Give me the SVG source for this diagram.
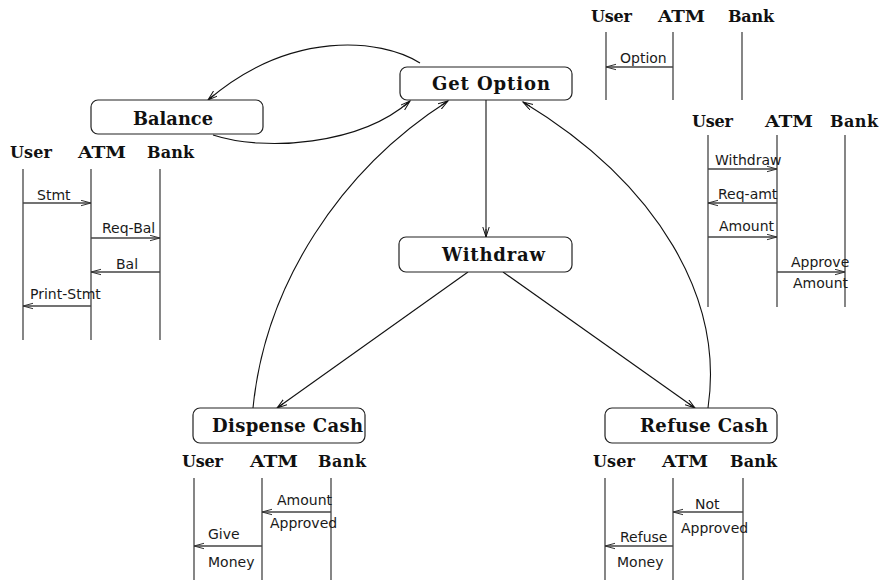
<svg xmlns="http://www.w3.org/2000/svg" width="881" height="580" viewBox="0 0 881 580">
  <style>
    .box { fill: #fff; stroke: #222; stroke-width: 1.2; }
    .state { font-family: "DejaVu Serif", "Liberation Serif", serif; font-weight: bold; font-size: 18px; fill: #111; }
    .head { font-family: "DejaVu Serif", "Liberation Serif", serif; font-weight: bold; font-size: 16px; fill: #111; }
    .msg { font-family: "DejaVu Sans", "Liberation Sans", sans-serif; font-size: 14px; fill: #1a1a1a; }
    .life { stroke: #444; stroke-width: 1.3; fill: none; }
    .sm { stroke: #444; stroke-width: 1.3; fill: none; marker-end: url(#seqhead); }
    .edge { stroke: #111; stroke-width: 1.1; fill: none; marker-end: url(#head); }
  </style>
  <defs>
    <marker id="head" markerUnits="userSpaceOnUse" markerWidth="12" markerHeight="8" refX="10" refY="3.5" orient="auto">
      <path d="M0,0.3 L10,3.5 L0,6.7 M2,3.5 L10,3.5" fill="none" stroke="#111" stroke-width="1"/>
    </marker>
    <marker id="seqhead" markerUnits="userSpaceOnUse" markerWidth="12" markerHeight="8" refX="10" refY="3.5" orient="auto">
      <path d="M0,0.8 L10,3.5 L0,6.2" fill="none" stroke="#333" stroke-width="1"/>
    </marker>
  </defs>

  <!-- state transitions -->
  <g id="connectors">
    <path class="edge" d="M420,63 C380,38 290,30 208,100"/>
    <path class="edge" d="M213,135 C265,152 360,145 410,101"/>
    <path class="edge" d="M486,100 L486,237"/>
    <path class="edge" d="M468,272 L277,408"/>
    <path class="edge" d="M503,272 L695,408"/>
    <path class="edge" d="M253,408 C265,285 340,170 448,101"/>
    <path class="edge" d="M708,408 C724,300 660,185 523,102"/>
  </g>

  <!-- states -->
  <g id="get-option">
    <rect class="box" x="400" y="67" width="172" height="33" rx="7"/>
    <text class="state" x="432" y="90" textLength="118" lengthAdjust="spacing">Get Option</text>
  </g>
  <g id="balance">
    <rect class="box" x="91" y="100" width="172" height="34" rx="7"/>
    <text class="state" x="133" y="125" textLength="80" lengthAdjust="spacingAndGlyphs">Balance</text>
  </g>
  <g id="withdraw">
    <rect class="box" x="399" y="237" width="173" height="35" rx="7"/>
    <text class="state" x="442" y="261" textLength="103" lengthAdjust="spacing">Withdraw</text>
  </g>
  <g id="dispense-cash">
    <rect class="box" x="193" y="408" width="172" height="35" rx="7"/>
    <text class="state" x="212" y="432" textLength="151" lengthAdjust="spacing">Dispense Cash</text>
  </g>
  <g id="refuse-cash">
    <rect class="box" x="605" y="408" width="172" height="35" rx="7"/>
    <text class="state" x="640" y="432" textLength="128" lengthAdjust="spacing">Refuse Cash</text>
  </g>

  <!-- sequence: get option -->
  <g id="seq-option">
    <text class="head" x="591" y="22" textLength="41">User</text>
    <text class="head" x="658" y="22" textLength="47" lengthAdjust="spacingAndGlyphs">ATM</text>
    <text class="head" x="728" y="22" textLength="46">Bank</text>
    <line class="life" x1="606" y1="32" x2="606" y2="100"/>
    <line class="life" x1="673" y1="32" x2="673" y2="100"/>
    <line class="life" x1="742" y1="32" x2="742" y2="100"/>
    <line class="sm" x1="673" y1="67" x2="606" y2="67"/>
    <text class="msg" x="620" y="63">Option</text>
  </g>

  <!-- sequence: balance -->
  <g id="seq-balance">
    <text class="head" x="10" y="158" textLength="42">User</text>
    <text class="head" x="78" y="158" textLength="48" lengthAdjust="spacingAndGlyphs">ATM</text>
    <text class="head" x="147" y="158" textLength="47">Bank</text>
    <line class="life" x1="23" y1="169" x2="23" y2="340"/>
    <line class="life" x1="91" y1="169" x2="91" y2="340"/>
    <line class="life" x1="160" y1="169" x2="160" y2="340"/>
    <line class="sm" x1="23" y1="203" x2="91" y2="203"/>
    <text class="msg" x="37" y="200">Stmt</text>
    <line class="sm" x1="91" y1="238" x2="160" y2="238"/>
    <text class="msg" x="102" y="233">Req-Bal</text>
    <line class="sm" x1="160" y1="272" x2="91" y2="272"/>
    <text class="msg" x="116" y="269">Bal</text>
    <line class="sm" x1="91" y1="306" x2="23" y2="306"/>
    <text class="msg" x="30" y="299">Print-Stmt</text>
  </g>

  <!-- sequence: withdraw -->
  <g id="seq-withdraw">
    <text class="head" x="692" y="127" textLength="41">User</text>
    <text class="head" x="765" y="127" textLength="48" lengthAdjust="spacingAndGlyphs">ATM</text>
    <text class="head" x="830" y="127" textLength="48">Bank</text>
    <line class="life" x1="708" y1="135" x2="708" y2="307"/>
    <line class="life" x1="777" y1="135" x2="777" y2="307"/>
    <line class="life" x1="845" y1="135" x2="845" y2="307"/>
    <line class="sm" x1="708" y1="169" x2="777" y2="169"/>
    <text class="msg" x="715" y="165">Withdraw</text>
    <line class="sm" x1="777" y1="203" x2="708" y2="203"/>
    <text class="msg" x="718" y="199">Req-amt</text>
    <line class="sm" x1="708" y1="237" x2="777" y2="237"/>
    <text class="msg" x="719" y="231">Amount</text>
    <line class="sm" x1="777" y1="272" x2="845" y2="272"/>
    <text class="msg" x="791" y="267">Approve</text>
    <text class="msg" x="793" y="288">Amount</text>
  </g>

  <!-- sequence: dispense cash -->
  <g id="seq-dispense">
    <text class="head" x="182" y="467" textLength="41">User</text>
    <text class="head" x="250" y="467" textLength="48" lengthAdjust="spacingAndGlyphs">ATM</text>
    <text class="head" x="318" y="467" textLength="48">Bank</text>
    <line class="life" x1="194" y1="478" x2="194" y2="580"/>
    <line class="life" x1="262" y1="478" x2="262" y2="580"/>
    <line class="life" x1="331" y1="478" x2="331" y2="580"/>
    <line class="sm" x1="331" y1="512" x2="262" y2="512"/>
    <text class="msg" x="277" y="505">Amount</text>
    <text class="msg" x="270" y="528">Approved</text>
    <line class="sm" x1="262" y1="546" x2="194" y2="546"/>
    <text class="msg" x="208" y="539">Give</text>
    <text class="msg" x="208" y="567">Money</text>
  </g>

  <!-- sequence: refuse cash -->
  <g id="seq-refuse">
    <text class="head" x="593" y="467" textLength="42">User</text>
    <text class="head" x="662" y="467" textLength="46" lengthAdjust="spacingAndGlyphs">ATM</text>
    <text class="head" x="730" y="467" textLength="47">Bank</text>
    <line class="life" x1="605" y1="478" x2="605" y2="580"/>
    <line class="life" x1="673" y1="478" x2="673" y2="580"/>
    <line class="life" x1="743" y1="478" x2="743" y2="580"/>
    <line class="sm" x1="743" y1="512" x2="673" y2="512"/>
    <text class="msg" x="695" y="509">Not</text>
    <text class="msg" x="681" y="533">Approved</text>
    <line class="sm" x1="673" y1="546" x2="605" y2="546"/>
    <text class="msg" x="620" y="542">Refuse</text>
    <text class="msg" x="617" y="567">Money</text>
  </g>
</svg>
